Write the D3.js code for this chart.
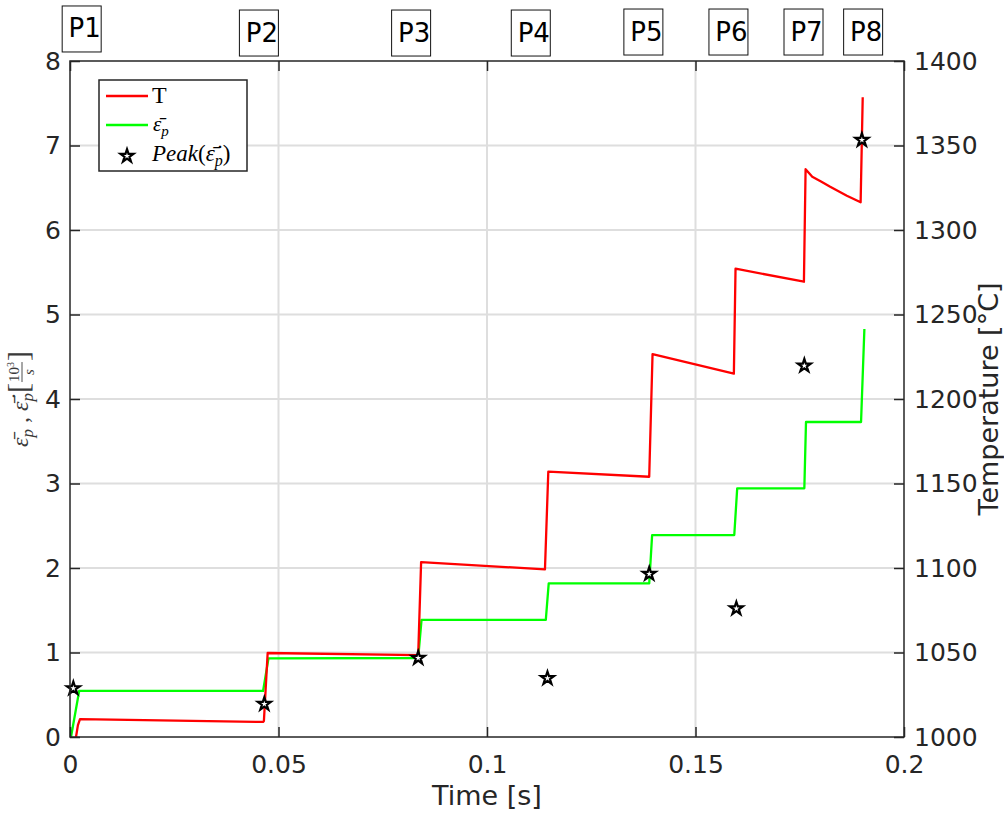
<!DOCTYPE html>
<html>
<head>
<meta charset="utf-8">
<script src="https://cdn.jsdelivr.net/npm/d3@7"></script>
<style>
  html, body { margin: 0; padding: 0; background: #fff; }
  svg { display: block; }
</style>
</head>
<body>
<svg id="chart" width="1004" height="813"></svg>
<script>
// temperature trace (right axis, degC)
const tempTime  = [0.00144, 0.0019, 0.0024, 0.0463, 0.0465, 0.0474, 0.0835, 0.0842, 0.1139, 0.1147,
                   0.1389, 0.1397, 0.1592, 0.1596, 0.1760, 0.1764, 0.1771, 0.1780, 0.1801, 0.1823,
                   0.1863, 0.1896, 0.1901];
const tempValue = [1000, 1007, 1010.6, 1008.9, 1009.5, 1049.7, 1048.5, 1103.5, 1099.2, 1157,
                   1154, 1226.6, 1215, 1277.1, 1269.4, 1336, 1334.0, 1331.5, 1328.7, 1325.6,
                   1320.3, 1316.4, 1378.5];

// accumulated plastic strain (left axis)
const strainTime  = [0.00024, 0.0022, 0.0463, 0.0476, 0.0835, 0.0843, 0.1141, 0.1148, 0.1389, 0.1396,
                     0.1593, 0.1600, 0.1761, 0.1765, 0.1897, 0.1905];
const strainValue = [0, 0.545, 0.545, 0.93, 0.935, 1.385, 1.385, 1.817, 1.817, 2.39,
                     2.39, 2.943, 2.943, 3.728, 3.728, 4.828];

// peak strain rate per pass (left axis, 10^3/s)
const peakTime  = [0.0008, 0.0466, 0.0835, 0.1145, 0.1389, 0.1598, 0.1761, 0.1899];
const peakValue = [0.576, 0.39, 0.935, 0.695, 1.93, 1.52, 4.394, 7.065];

// pass labels
const passNames  = ['P1', 'P2', 'P3', 'P4', 'P5', 'P6', 'P7', 'P8'];
const passTime   = [0.0028, 0.0453, 0.0818, 0.1105, 0.1375, 0.1579, 0.1759, 0.1902];
const passLevel  = [8.379, 8.331, 8.331, 8.331, 8.343, 8.343, 8.343, 8.343];

const xTicks = [0, 0.05, 0.1, 0.15, 0.2];
const yLeftTicks = [0, 1, 2, 3, 4, 5, 6, 7, 8];
const yRightTicks = [1000, 1050, 1100, 1150, 1200, 1250, 1300, 1350, 1400];

const axisColor = '#262626';
const gridColor = '#dedede';
const sans = 'DejaVu Sans, sans-serif';
const serif = 'Liberation Serif, DejaVu Serif, serif';

const svg = d3.select('#chart');
const plotLeft = 70, plotRight = 904, plotTop = 61, plotBottom = 737;

const x = d3.scaleLinear().domain([0, 0.2]).range([plotLeft, plotRight]);
const yL = d3.scaleLinear().domain([0, 8]).range([plotBottom, plotTop]);
const yR = d3.scaleLinear().domain([1000, 1400]).range([plotBottom, plotTop]);

// grid
svg.append('g').selectAll('line')
    .data(yLeftTicks.slice(1, -1))
    .join('line')
    .attr('x1', plotLeft).attr('x2', plotRight)
    .attr('y1', d => yL(d)).attr('y2', d => yL(d))
    .attr('stroke', gridColor).attr('stroke-width', 2);
svg.append('g').selectAll('line')
    .data(xTicks.slice(1, -1))
    .join('line')
    .attr('x1', d => x(d)).attr('x2', d => x(d))
    .attr('y1', plotTop).attr('y2', plotBottom)
    .attr('stroke', gridColor).attr('stroke-width', 2);

// lines
const tempLine = d3.line().x(d => x(d[0])).y(d => yR(d[1]));
const strainLine = d3.line().x(d => x(d[0])).y(d => yL(d[1]));

svg.append('path')
    .datum(strainTime.map((t, i) => [t, strainValue[i]]))
    .attr('d', strainLine)
    .attr('fill', 'none')
    .attr('stroke', '#00ff00')
    .attr('stroke-width', 2.3)
    .attr('stroke-linejoin', 'round');

svg.append('path')
    .datum(tempTime.map((t, i) => [t, tempValue[i]]))
    .attr('d', tempLine)
    .attr('fill', 'none')
    .attr('stroke', '#ff0000')
    .attr('stroke-width', 2.3)
    .attr('stroke-linejoin', 'round');

// peak markers
const star = d3.symbol().type(d3.symbolStar).size(52);
svg.append('g').selectAll('path')
    .data(peakTime.map((t, i) => [t, peakValue[i]]))
    .join('path')
    .attr('transform', d => `translate(${x(d[0])},${yL(d[1])})`)
    .attr('d', star)
    .attr('fill', 'white')
    .attr('stroke', 'black')
    .attr('stroke-width', 2.2);

// axes
function styleAxis(g) {
    g.select('.domain').remove();
    g.selectAll('line').attr('stroke', axisColor).attr('stroke-width', 1.5);
    g.selectAll('text').attr('fill', axisColor).style('font-family', sans).style('font-size', '25px');
}

svg.append('g')
    .attr('transform', `translate(0,${plotBottom})`)
    .call(d3.axisBottom(x).tickValues(xTicks).tickFormat(d => d3.format('~g')(d))
        .tickSizeInner(-10).tickSizeOuter(0).tickPadding(18))
    .call(styleAxis);
svg.append('g')
    .attr('transform', `translate(0,${plotTop})`)
    .call(d3.axisTop(x).tickValues(xTicks).tickFormat('')
        .tickSizeInner(-10).tickSizeOuter(0))
    .call(styleAxis);
svg.append('g')
    .attr('transform', `translate(${plotLeft},0)`)
    .call(d3.axisLeft(yL).tickValues(yLeftTicks).tickFormat(d3.format('d'))
        .tickSizeInner(-10).tickSizeOuter(0).tickPadding(9))
    .call(styleAxis);
svg.append('g')
    .attr('transform', `translate(${plotRight},0)`)
    .call(d3.axisRight(yR).tickValues(yRightTicks).tickFormat(d3.format('d'))
        .tickSizeInner(-10).tickSizeOuter(0).tickPadding(10))
    .call(styleAxis);

// box
svg.append('rect')
    .attr('x', plotLeft).attr('y', plotTop)
    .attr('width', plotRight - plotLeft).attr('height', plotBottom - plotTop)
    .attr('fill', 'none')
    .attr('stroke', axisColor)
    .attr('stroke-width', 1.5);

// axis titles
svg.append('text')
    .attr('x', (plotLeft + plotRight) / 2)
    .attr('y', 805)
    .attr('text-anchor', 'middle')
    .style('font-family', sans)
    .style('font-size', '27px')
    .attr('fill', axisColor)
    .text('Time [s]');

svg.append('text')
    .attr('transform', `translate(997.5,${(plotTop + plotBottom) / 2}) rotate(-90)`)
    .attr('text-anchor', 'middle')
    .style('font-family', sans)
    .style('font-size', '27px')
    .attr('fill', axisColor)
    .text('Temperature [°C]');

// left label, built piece by piece
const yLab = svg.append('g');
const inner = yLab.append('g');
const lt = inner.append('text')
    .style('font-family', serif)
    .style('font-size', '24px')
    .attr('fill', '#3a3a3a');
lt.append('tspan').style('font-style', 'italic').text('ε̄');
lt.append('tspan').style('font-style', 'italic').style('font-size', '17px').attr('dy', 5).text('p');
lt.append('tspan').attr('dy', -5).text(' , ');
lt.append('tspan').style('font-style', 'italic').text('ε̄̇');
lt.append('tspan').style('font-style', 'italic').style('font-size', '17px').attr('dy', 5).text('p');
lt.append('tspan').attr('dy', -5).style('font-size', '30px').text('[');
let w = lt.node().getComputedTextLength() + 1;
const num = inner.append('text')
    .attr('x', w).attr('y', -9)
    .style('font-family', serif).style('font-size', '15px').attr('fill', '#3a3a3a');
num.append('tspan').text('10');
num.append('tspan').attr('dy', -5).style('font-size', '10px').text('3');
const nw = num.node().getComputedTextLength();
inner.append('line')
    .attr('x1', w).attr('x2', w + nw)
    .attr('y1', -6).attr('y2', -6)
    .attr('stroke', '#3a3a3a').attr('stroke-width', 0.9);
inner.append('text')
    .attr('x', w + nw / 2).attr('y', 6)
    .attr('text-anchor', 'middle')
    .style('font-family', serif).style('font-size', '15px').style('font-style', 'italic')
    .attr('fill', '#3a3a3a').text('s');
inner.append('text')
    .attr('x', w + nw + 1).attr('y', 0)
    .style('font-family', serif).style('font-size', '30px')
    .attr('fill', '#3a3a3a').text(']');
const lw = inner.node().getBBox().width;
inner.attr('transform', `translate(${-lw / 2},0)`);
yLab.attr('transform', `translate(28,${(plotTop + plotBottom) / 2}) rotate(-90)`);

// pass labels
const passes = svg.append('g').selectAll('g')
    .data(passNames.map((n, i) => ({ name: n, t: passTime[i], v: passLevel[i] })))
    .join('g')
    .attr('transform', d => `translate(${x(d.t)},${yL(d.v)})`);
passes.append('rect')
    .attr('x', -19.5).attr('y', -23)
    .attr('width', 39).attr('height', 46)
    .attr('fill', 'white')
    .attr('stroke', '#111')
    .attr('stroke-width', 1);
passes.append('text')
    .attr('x', 3).attr('y', 8.5)
    .attr('text-anchor', 'middle')
    .style('font-family', sans)
    .style('font-size', '26px')
    .attr('fill', '#000')
    .text(d => d.name);

// legend
const legend = svg.append('g').attr('transform', 'translate(99,80)');
legend.append('rect')
    .attr('width', 148).attr('height', 91)
    .attr('fill', 'white')
    .attr('stroke', axisColor)
    .attr('stroke-width', 1.5);
legend.append('line')
    .attr('x1', 7).attr('x2', 49).attr('y1', 16).attr('y2', 16)
    .attr('stroke', '#ff0000').attr('stroke-width', 2.3);
legend.append('line')
    .attr('x1', 7).attr('x2', 49).attr('y1', 45).attr('y2', 45)
    .attr('stroke', '#00ff00').attr('stroke-width', 2.3);
legend.append('path')
    .attr('transform', 'translate(28,76)')
    .attr('d', star)
    .attr('fill', 'white').attr('stroke', 'black').attr('stroke-width', 2.2);

legend.append('text')
    .attr('x', 53).attr('y', 23)
    .style('font-family', serif).style('font-size', '24px')
    .attr('fill', '#000').text('T');
const l2 = legend.append('text')
    .attr('x', 54).attr('y', 51)
    .style('font-family', serif).style('font-size', '21px').style('font-style', 'italic')
    .attr('fill', '#000');
l2.append('tspan').text('ε̄');
l2.append('tspan').attr('dy', 5).style('font-size', '15px').text('p');
const l3 = legend.append('text')
    .attr('x', 53).attr('y', 81)
    .style('font-family', serif).style('font-size', '23px').style('font-style', 'italic')
    .attr('fill', '#000');
l3.append('tspan').text('Peak');
l3.append('tspan').style('font-style', 'normal').text('(');
l3.append('tspan').text('ε̄̇');
l3.append('tspan').attr('dy', 5).style('font-size', '16px').text('p');
l3.append('tspan').attr('dy', -5).style('font-style', 'normal').text(')');
</script>
</body>
</html>
